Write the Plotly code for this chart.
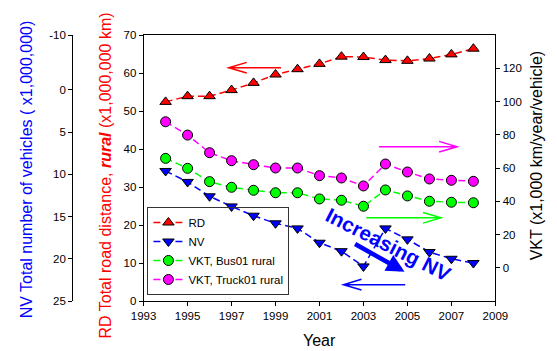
import plotly.graph_objects as go

W, H = 557, 351

years = list(range(1994, 2009))
rd = [52.4, 53.9, 53.9, 55.5, 57.4, 59.6, 61.0, 62.4, 64.3, 64.2, 63.4, 63.2, 63.8, 64.9, 66.4]
nv = [9.6, 10.9, 12.6, 13.8, 14.9, 15.8, 16.4, 18.1, 19.1, 20.9, 16.4, 17.7, 19.2, 20.0, 20.5]
vkt_bus = [65.8, 59.8, 51.8, 48.4, 46.6, 45.1, 45.1, 41.4, 40.6, 37.0, 46.8, 43.2, 40.0, 39.4, 39.1]
vkt_truck = [87.8, 79.8, 69.2, 64.4, 62.0, 60.0, 60.0, 55.4, 54.0, 49.2, 62.4, 57.6, 53.4, 52.6, 52.0]

x_ticks = list(range(1993, 2010, 2))
rd_ticks = list(range(0, 71, 10))
nv_tickvals = [-6.5, 0, 5, 10, 15, 20, 25]
nv_ticktext = ["-10", "0", "5", "10", "15", "20", "25"]
vkt_ticks = list(range(0, 121, 20))

FONT = "Arial, Liberation Sans, sans-serif"
DASH = "7px,4px"

def px_x(p):
    return p / W

def px_y(p):
    return (301 - p) / 266

fig = go.Figure()

def add(name, y, yaxis, color, symbol):
    fig.add_trace(go.Scatter(
        x=years, y=y, name=name, yaxis=yaxis, mode="lines+markers",
        line=dict(color=color, width=1.5, dash=DASH),
        marker=dict(symbol=symbol, size=10, color=color, line=dict(color="black", width=1)),
    ))

add("RD", rd, "y", "#ff0000", "triangle-up")
add("NV", nv, "y2", "#0000ff", "triangle-down")
add("VKT, Bus01 rural", vkt_bus, "y3", "#00ff00", "circle")
add("VKT, Truck01 rural", vkt_truck, "y3", "#ff00ff", "circle")

tickfont = dict(family=FONT, size=11.5, color="black")
axis_common = dict(showgrid=False, zeroline=False, showline=True, linecolor="black", linewidth=1,
                   ticks="outside", ticklen=4, tickcolor="black", tickfont=tickfont)

fig.update_layout(
    width=W, height=H,
    margin=dict(l=0, r=0, t=35, b=50),
    paper_bgcolor="white", plot_bgcolor="white",
    font=dict(family=FONT, color="black"),
    xaxis=dict(domain=[137 / W, 506 / W], range=[1993, 2009], tickvals=x_ticks,
               mirror=True, **axis_common),
    yaxis=dict(range=[0, 70], tickvals=rd_ticks, anchor="x", **axis_common),
    yaxis2=dict(range=[25, -6.5], tickvals=nv_tickvals, ticktext=nv_ticktext,
                overlaying="y", anchor="free", position=62 / W, side="left", **axis_common),
    yaxis3=dict(range=[-20, 140], tickvals=vkt_ticks, overlaying="y", anchor="x", side="right",
                **axis_common),
    legend=dict(x=141 / W, y=px_y(295), xanchor="left", yanchor="bottom",
                bgcolor="rgba(255,255,255,0)", bordercolor="#333", borderwidth=1,
                font=dict(family=FONT, size=11.5, color="black"), tracegroupgap=0),
    showlegend=True,
)

# axis titles
titles = [
    ("NV Total number of vehicles ( x1,000,000)", 14, 169, "#0000ff", -90),
    ("RD Total road distance, <b><i>rural</i></b> (x1,000,000 km)", 96, 176, "#ff0000", -90),
    ("VKT (x1,000 km/year/vehicle)", 549, 155, "black", -90),
    ("Year", 322, 340, "black", 0),
]
for text, xp, yp, col, ang in titles:
    fig.add_annotation(text=text, x=px_x(xp), y=px_y(yp), xref="paper", yref="paper",
                       showarrow=False, textangle=ang, xanchor="center", yanchor="middle",
                       font=dict(family=FONT, size=16, color=col))

# thin direction arrows (tail x, head x, y in RD units)
arrows = [
    (1999.25, 1996.87, 61.4, "#ff0000"),
    (2003.71, 2007.26, 40.6, "#ff00ff"),
    (2003.13, 2006.53, 21.9, "#00ff00"),
    (2004.90, 2002.09, 4.3, "#0000ff"),
]
L, HH = 0.82, 1.4
for x0, x1, y, col in arrows:
    d = 1 if x0 > x1 else -1
    path = (f"M{x0},{y} L{x1},{y} M{x1 + d * L},{y + HH} L{x1},{y} L{x1 + d * L},{y - HH}")
    fig.add_shape(type="path", path=path, xref="x", yref="y",
                  line=dict(color=col, width=1.5))

# big arrow and label
fig.add_annotation(x=2004.87, y=7.7, ax=2002.55, ay=15.2, xref="x", yref="y",
                   axref="x", ayref="y", showarrow=True, arrowhead=2, arrowsize=0.8,
                   arrowwidth=4.5, arrowcolor="#0000ff", text="")
fig.add_annotation(x=2004.15, y=14.9, xref="x", yref="y", text="<b>Increasing NV</b>",
                   showarrow=False, textangle=27,
                   font=dict(family=FONT, size=20.5, color="#0000ff"))

fig.write_html("out.html", config={"displayModeBar": False},
               post_script="document.body.style.margin='0';document.body.style.overflow='hidden';")
